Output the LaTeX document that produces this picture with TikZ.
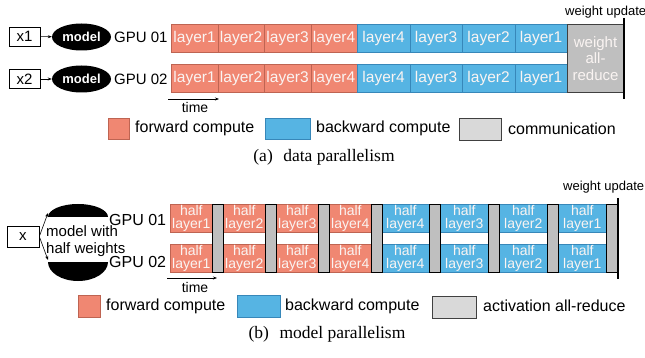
\documentclass[tikz,border=0pt]{standalone}
\usepackage{fontspec}
\setmainfont{Liberation Sans}
\newfontfamily\capfont{Liberation Serif}
\usetikzlibrary{arrows.meta,shapes.geometric}
\definecolor{fwd}{RGB}{240,135,114}
\definecolor{fwdb}{RGB}{190,100,82}
\definecolor{bwd}{RGB}{86,180,227}
\definecolor{bwdb}{RGB}{55,135,185}
\definecolor{comm}{RGB}{191,191,191}
\definecolor{commleg}{RGB}{217,217,217}
\definecolor{celltext}{RGB}{250,244,242}
\begin{document}
\begin{tikzpicture}[x=1pt,y=-1pt,
  cell/.style={draw, anchor=north west, inner sep=0pt, text=celltext, line width=0.6pt},
  fcell/.style={cell, fill=fwd, draw=fwdb},
  bcell/.style={cell, fill=bwd, draw=bwdb},
  onefont/.style={font=\fontsize{15.5}{15.5}\selectfont},
  twofont/.style={align=center, font=\fontsize{14}{13.5}\selectfont},
  commbar/.style={draw=black, fill=comm, line width=1.1pt, anchor=north west, inner sep=0pt},
  inbox/.style={draw, line width=0.6pt, inner sep=0pt, font=\fontsize{15}{15}\selectfont},
  modelnode/.style={ellipse, fill=black, text=white, inner sep=0pt, minimum width=59pt, minimum height=27pt, font=\fontsize{13}{13}\selectfont\bfseries},
  arr/.style={-{Stealth[length=4pt,width=3pt]}, line width=0.6pt},
  gpu/.style={anchor=west, inner sep=0pt},
  legtext/.style={anchor=west, inner sep=0pt, font=\fontsize{16}{16}\selectfont},
  legsq/.style={anchor=north west, inner sep=0pt},
  small/.style={inner sep=0pt, font=\fontsize{13}{13}\selectfont},
  timetext/.style={inner sep=0pt, font=\fontsize{14}{14}\selectfont},
  caption/.style={inner sep=0pt, font=\capfont\fontsize{17.5}{17.5}\selectfont},
  wuline/.style={line width=2.5pt}
]
\useasboundingbox (0,0) rectangle (645,358);

% ---------------- (a) data parallelism ----------------
\node[inbox, minimum width=31pt, minimum height=19pt] (x1) at (24.5,36.5) {x1};
\node[inbox, minimum width=31pt, minimum height=19pt] (x2) at (24.5,79) {x2};
\node[modelnode] (m1) at (81.5,37) {model};
\node[modelnode] (m2) at (81.5,79) {model};
\draw[arr] (x1) -- (m1);
\draw[arr] (x2) -- (m2);
\node[gpu, font=\fontsize{15}{15}\selectfont] (g1) at (114,37) {GPU 01};
\node[gpu, font=\fontsize{15}{15}\selectfont] (g2) at (114,79) {GPU 02};

\foreach \r/\y in {1/24,2/64}{
  \foreach \i/\t in {0/layer1,1/layer2,2/layer3,3/layer4}
    \node[fcell, onefont, minimum width=46.5pt, minimum height=28pt] (a\r f\i) at ({171+46.5*\i},\y) {\t};
  \foreach \i/\t in {0/layer4,1/layer3,2/layer2,3/layer1}
    \node[bcell, onefont, minimum width=52.5pt, minimum height=28pt] (a\r b\i) at ({357+52.5*\i},\y) {\t};
}
\node[commbar, draw=black!75, minimum width=56pt, minimum height=68pt, align=center, text=celltext,
      font=\fontsize{15}{16.5}\selectfont] (war) at (567,24) {weight\\all-\\reduce};
\coordinate (wua1) at (624,18);
\coordinate (wua2) at (624,99);
\draw[wuline] (wua1) -- (wua2);
\node[small, anchor=west] (wua) at (565,12) {weight update};

\coordinate (ta1) at (168,99);
\coordinate (ta2) at (219,99);
\draw[arr] (ta1) -- (ta2);
\node[timetext] (tat) at (195,107) {time};

\node[legsq, fill=fwd, draw=fwdb, line width=0.6pt, minimum width=21pt, minimum height=21pt] (la1) at (108,118) {};
\node[legtext] (la1t) at (135,128.5) {forward compute};
\node[legsq, fill=bwd, draw=bwdb, line width=0.6pt, minimum width=45pt, minimum height=21pt] (la2) at (265,118) {};
\node[legtext] (la2t) at (316,128.5) {backward compute};
\node[legsq, fill=commleg, draw=black!75, line width=1pt, minimum width=42pt, minimum height=22pt] (la3) at (459,118) {};
\node[legtext] (la3t) at (508,128.5) {communication};

\node[caption] (capa) at (324,157) {(a)\hspace{0.6em}data parallelism};

% ---------------- (b) model parallelism ----------------
\node[inbox, minimum width=32pt, minimum height=21pt] (xb) at (23,236.5) {x};
\fill (48,217) arc[start angle=180, end angle=0, x radius=30pt, y radius=13pt] -- cycle;
\fill (48,262) arc[start angle=180, end angle=360, x radius=30pt, y radius=19pt] -- cycle;
\coordinate (mbt) at (48,213);
\coordinate (mbb) at (48,260);
\draw[arr] (xb.east) -- (mbt);
\draw[arr] (xb.east) -- (mbb);
\node[gpu, anchor=west, align=left, font=\fontsize{15}{16.5}\selectfont] (mtext) at (46,241) {model with\\half weights};
\node[gpu, font=\fontsize{16}{16}\selectfont] (gb1) at (109,220) {GPU 01};
\node[gpu, font=\fontsize{16}{16}\selectfont] (gb2) at (109,262) {GPU 02};

\foreach \r/\y in {1/204,2/244}{
  \foreach \i/\t in {0/1,1/2,2/3,3/4}
    \node[fcell, twofont, minimum width=42pt, minimum height=28pt] (b\r f\i) at ({170+53*\i},\y) {half\\layer\t};
  \foreach \i/\t in {0/4,1/3,2/2,3/1}
    \node[bcell, twofont, minimum width=48pt, minimum height=28pt] (b\r b\i) at ({381+59*\i},\y) {half\\layer\t};
}
\foreach \i in {0,1,2,3}{
  \node[commbar, minimum width=11pt, minimum height=68pt] (gf\i) at ({212+53*\i},204) {};
  \node[commbar, minimum width=11pt, minimum height=68pt] (gb\i) at ({429+59*\i},204) {};
}
\coordinate (wub1) at (618,198);
\coordinate (wub2) at (618,279);
\draw[wuline] (wub1) -- (wub2);
\node[small, anchor=west] (wub) at (563,187) {weight update};

\coordinate (tb1) at (167,278);
\coordinate (tb2) at (217,278);
\draw[arr] (tb1) -- (tb2);
\node[timetext] (tbt) at (195,287) {time};

\node[legsq, fill=fwd, draw=fwdb, line width=0.6pt, minimum width=22pt, minimum height=22pt] (lb1) at (78,295) {};
\node[legtext] (lb1t) at (106,306) {forward compute};
\node[legsq, fill=bwd, draw=bwdb, line width=0.6pt, minimum width=43pt, minimum height=22pt] (lb2) at (237,295) {};
\node[legtext] (lb2t) at (285,306) {backward compute};
\node[legsq, fill=commleg, draw=black!75, line width=1pt, minimum width=44pt, minimum height=22pt] (lb3) at (432,296) {};
\node[legtext] (lb3t) at (483,306) {activation all-reduce};

\node[caption] (capb) at (327,334) {(b)\hspace{0.6em}model parallelism};
\end{tikzpicture}
\end{document}
